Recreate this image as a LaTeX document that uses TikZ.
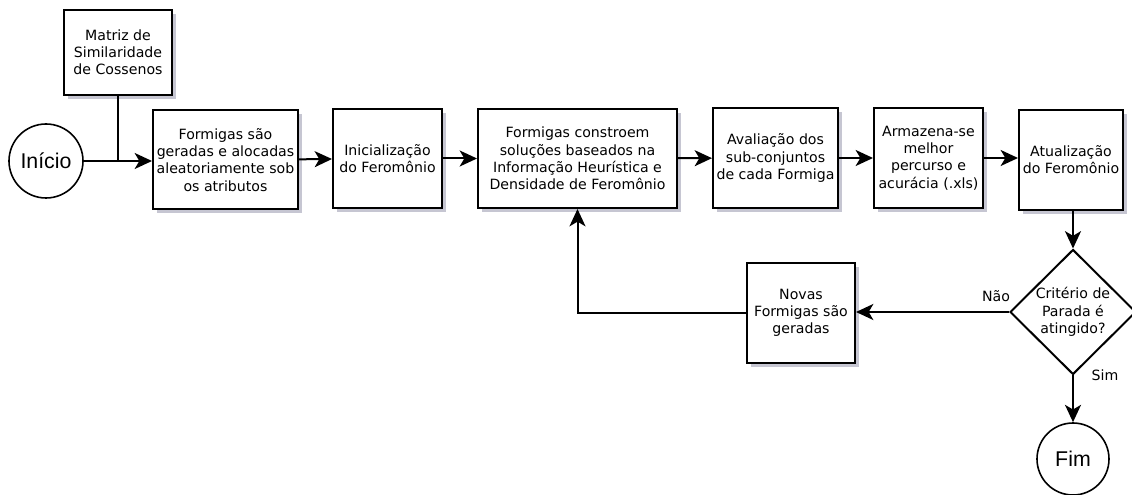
\documentclass[tikz,border=0pt]{standalone}
\usepackage{fontspec}
\setmainfont{DejaVu Sans}
\newfontfamily\circfont{Liberation Sans}
\usetikzlibrary{shapes.geometric, arrows.meta, shadows}

\begin{document}
\begin{tikzpicture}[x=0.75pt, y=-0.75pt,
    font=\fontsize{10.6}{12.9}\selectfont,
    line/.style={line width=1.5pt},
    arr/.style={line width=1.5pt, -{Stealth[length=13pt, width=12pt, inset=3.5pt]}},
    box/.style={draw, line width=1.5pt, fill=white, align=center, inner sep=1pt,
      drop shadow={shadow xshift=3pt, shadow yshift=-3pt, opacity=0.6,
        fill={rgb,255:red,160;green,160;blue,180}}},
    term/.style={draw, circle, line width=1.2pt, fill=white, inner sep=0pt,
      font=\circfont\fontsize{16}{18}\selectfont},
    decision/.style={draw, diamond, line width=1.5pt, fill=white, align=center, inner sep=0pt}]

  % Page frame
  \useasboundingbox (0,0) rectangle (1132,495);

  % Start and input
  \node[term, minimum size=55.5pt] (inicio) at (46,161) {Início};
  \node[box, minimum width=81pt, minimum height=63.75pt] (matriz) at (118,52.5)
    {Matriz de\\Similaridade\\de Cossenos};

  % Main row
  \node[box, minimum width=108.75pt, minimum height=74.25pt] (gera) at (225.5,160)
    {Formigas são\\geradas e alocadas\\aleatoriamente sob\\os atributos};
  \node[box, minimum width=81.75pt, minimum height=74.25pt] (inic) at (387.5,158.5)
    {Inicialização\\do Feromônio};
  \node[box, minimum width=149.25pt, minimum height=74.25pt] (constroem) at (577.5,158.5)
    {Formigas constroem\\soluções baseados na\\Informação Heurística e\\Densidade de Feromônio};
  \node[box, minimum width=93.75pt, minimum height=75pt] (aval) at (775.5,158)
    {Avaliação dos\\sub-conjuntos\\de cada Formiga};
  \node[box, minimum width=81.75pt, minimum height=75pt] (armaz) at (928.5,158)
    {Armazena-se\\melhor\\percurso e\\acurácia (.xls)};
  \node[box, minimum width=78pt, minimum height=75pt] (atual) at (1071,160)
    {Atualização\\do Feromônio};

  % Stop test and loop back
  \node[decision, minimum width=94.5pt, minimum height=93.75pt] (crit) at (1073,312)
    {Critério de\\Parada é\\atingido?};
  \node[box, minimum width=81pt, minimum height=75pt] (novas) at (801,313)
    {Novas\\Formigas são\\geradas};
  \node[term, minimum size=54pt] (fim) at (1073,459) {Fim};

  % Connectors
  \coordinate (join) at (matriz.south |- inicio.east);
  \draw[line] (matriz.south) -- (join);
  \draw[arr] (inicio.east) -- (gera.west |- inicio.east);
  \draw[arr] (gera) -- (inic);
  \draw[arr] (inic) -- (constroem);
  \draw[arr] (constroem) -- (aval);
  \draw[arr] (aval) -- (armaz);
  \draw[arr] (armaz) -- (atual.west |- armaz.east);
  \draw[arr] (crit.north |- atual.south) -- (crit.north);
  \draw[arr] (crit.west) -- (novas.east |- crit.west);
  \draw[arr] (novas.west) -| (constroem.south);
  \draw[arr] (crit.south) -- (fim.north);

  % Branch labels
  \node (nao) at (996,296) {Não};
  \node (sim) at (1105,375) {Sim};
\end{tikzpicture}
\end{document}
